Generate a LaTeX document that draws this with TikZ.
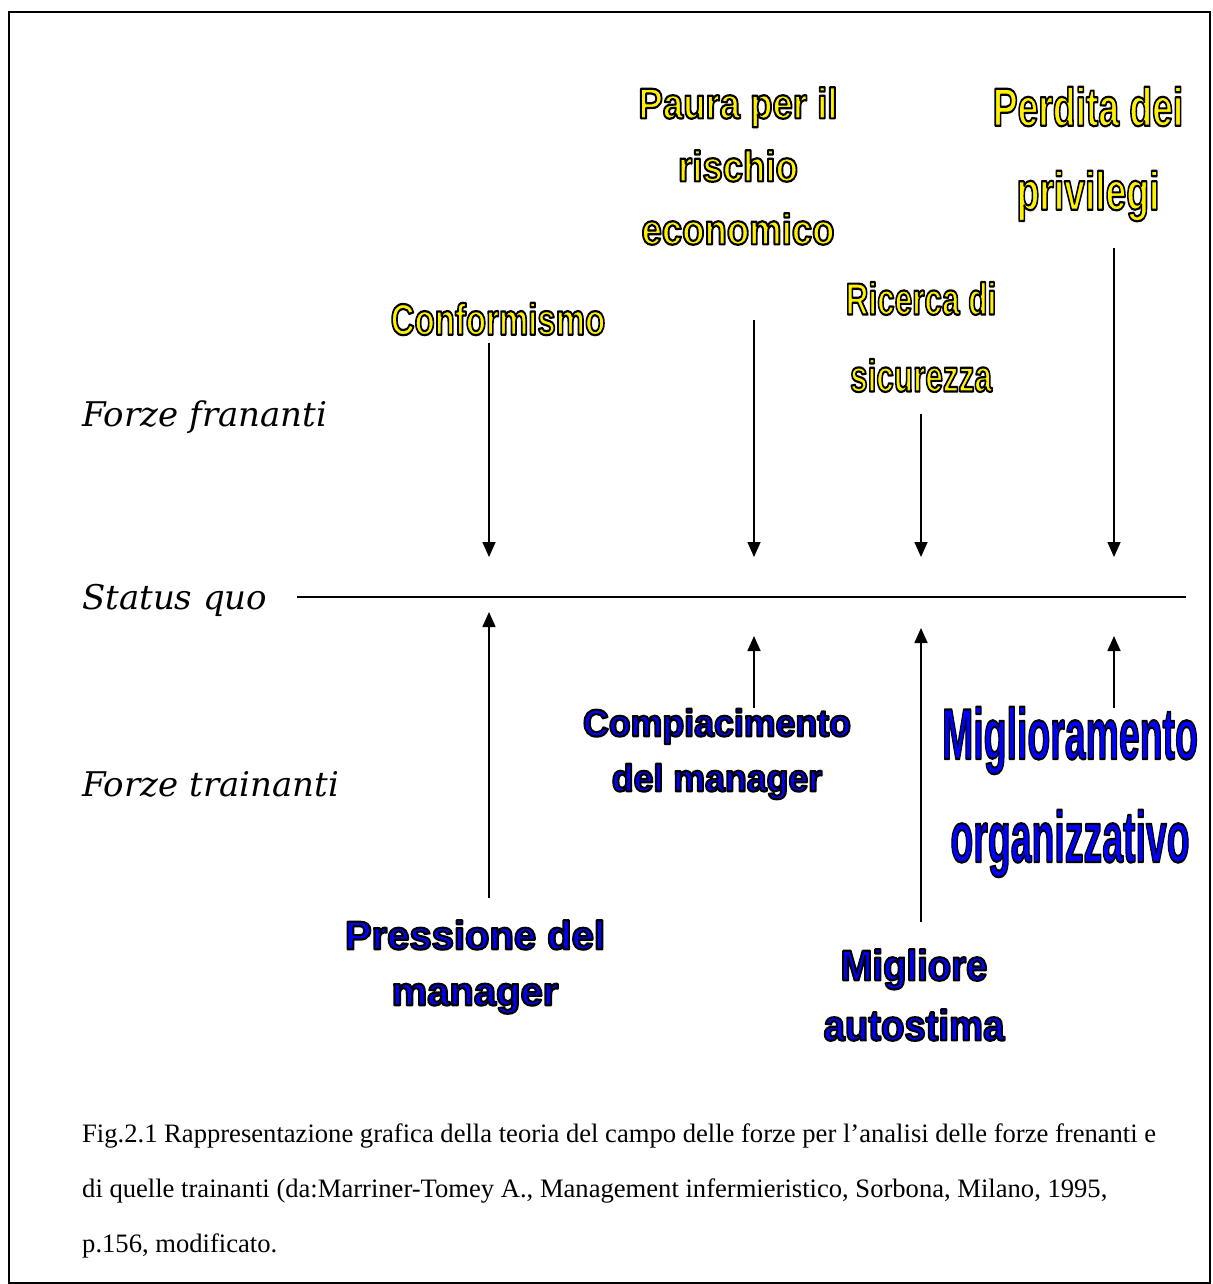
\documentclass[tikz,border=0pt]{standalone}
\usepackage{fontspec}
\usetikzlibrary{arrows.meta}
\setmainfont{Liberation Serif}
\newfontfamily\artfont{Liberation Sans}
\newfontfamily\labfont{DejaVu Serif}
\newcommand{\ol}[1]{\special{pdf:literal 2 Tr 2.2 w 1 j 0 G}#1\special{pdf:literal 0 Tr}}

\begin{document}
\begin{tikzpicture}
          [x=1pt,y=-1pt,
          force/.style={line width=1.6pt,-{Triangle[width=13pt,length=15pt]}},
          yart/.style n args={3}{font={\artfont\bfseries\fontsize{#1}{#2}\selectfont},text=yellow,align=center,inner sep=0,xscale=#3,transform shape},
          bart/.style n args={3}{font={\artfont\bfseries\fontsize{#1}{#2}\selectfont},text=blue,align=center,inner sep=0,xscale=#3,transform shape},
          side/.style={font={\labfont\itshape\fontsize{34}{40}\selectfont},anchor=west,inner sep=0},
          caption/.style={font={\fontsize{26.6}{30}\selectfont},anchor=base west,inner sep=0}]

          \useasboundingbox (0,0) rectangle (1212,1284);
          \draw[line width=2pt] (9,12) rectangle (1210,1283);

          % side labels
          \node[side] (fren) at (82,417) {Forze frananti};
          \node[side] (sq) at (82,600) {Status quo};
          \node[side] (train) at (82,784) {Forze trainanti};

          % status quo line
          \coordinate (sqL) at (297,597);
          \coordinate (sqR) at (1186,597);
          \draw[line width=1.6pt] (sqL) -- (sqR);

          % restraining forces
          \node[yart={44}{50}{0.75}] (conf) at (498,319) {\ol{Conformismo}};
          \node[yart={43}{63}{0.85}] (paura) at (738,166) {\ol{Paura per il}\\\ol{rischio}\\\ol{economico}};
          \node[yart={54}{84}{0.69}] (perd) at (1088,154) {\ol{Perdita dei}\\\ol{privilegi}};
          \node[yart={45}{77}{0.70}] (ric) at (921,337) {\ol{Ricerca di}\\\ol{sicurezza}};

          % driving forces
          \node[bart={38}{55}{0.94}] (comp) at (717,754) {\ol{Compiacimento}\\\ol{del manager}};
          \node[bart={40}{56}{1.0}] (press) at (475,967) {\ol{Pressione del}\\\ol{manager}};
          \node[bart={43}{60}{0.89}] (migl) at (914,995) {\ol{Migliore}\\\ol{autostima}};
          \node[bart={72}{103}{0.52}] (org) at (1070,792) {\ol{Miglioramento}\\\ol{organizzativo}};

          \coordinate (d1s) at (489,343);  \coordinate (d1e) at (489,557);
          \coordinate (d2s) at (754,320);  \coordinate (d2e) at (754,557);
          \coordinate (d3s) at (921,414);  \coordinate (d3e) at (921,557);
          \coordinate (d4s) at (1114,248); \coordinate (d4e) at (1114,557);

          \coordinate (u1s) at (489,898);  \coordinate (u1e) at (489,612);
          \coordinate (u2s) at (754,708);  \coordinate (u2e) at (754,636);
          \coordinate (u3s) at (921,922);  \coordinate (u3e) at (921,628);
          \coordinate (u4s) at (1114,708); \coordinate (u4e) at (1114,636);

          \draw[force] (d1s) -- (d1e);
          \draw[force] (d2s) -- (d2e);
          \draw[force] (d3s) -- (d3e);
          \draw[force] (d4s) -- (d4e);
          \draw[force] (u1s) -- (u1e);
          \draw[force] (u2s) -- (u2e);
          \draw[force] (u3s) -- (u3e);
          \draw[force] (u4s) -- (u4e);

          % caption
          \node[caption] (cap1) at (82,1142) {Fig.2.1 Rappresentazione grafica della teoria del campo delle forze per l’analisi delle forze frenanti e};
          \node[caption] (cap2) at (82,1197) {di quelle trainanti (da:Marriner-Tomey A., Management infermieristico, Sorbona, Milano, 1995,};
          \node[caption] (cap3) at (82,1252) {p.156, modificato.};

        \end{tikzpicture}
\end{document}
